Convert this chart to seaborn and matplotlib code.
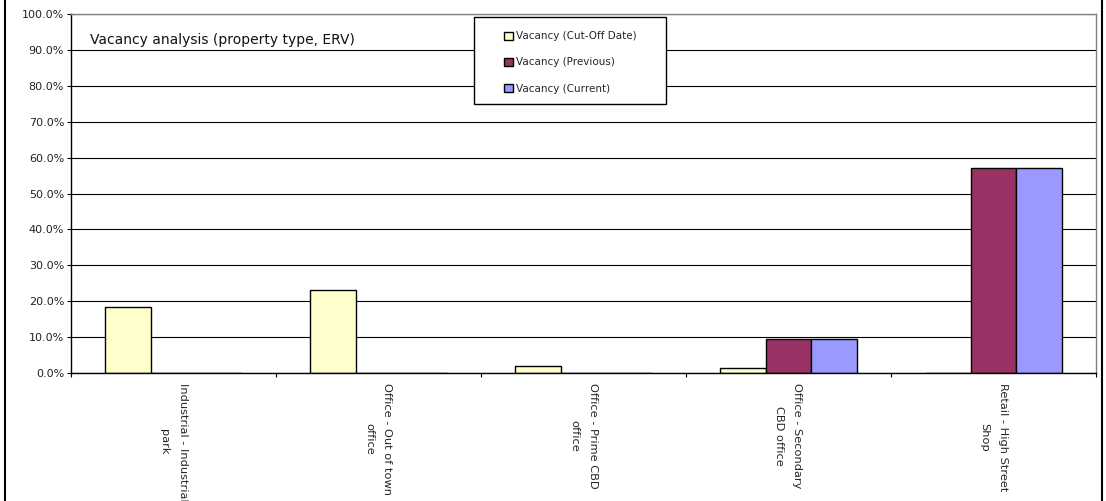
import pandas as pd
import matplotlib.pyplot as plt
import seaborn as sns
from matplotlib.ticker import FuncFormatter, FixedLocator
from matplotlib.lines import Line2D
from matplotlib.patches import Rectangle

sns.set_style("white")
plt.rcParams['font.family'] = ['DejaVu Sans']

categories = [
    "Industrial - Industrial\npark",
    "Office - Out of town\noffice",
    "Office - Prime CBD\noffice",
    "Office - Secondary\nCBD office",
    "Retail - High Street\nShop",
]
series = ["Vacancy (Cut-Off Date)", "Vacancy (Previous)", "Vacancy (Current)"]
cutoff = [0.184, 0.232, 0.020, 0.013, 0.0]
previous = [0.0, 0.0, 0.0, 0.094, 0.572]
current = [0.0, 0.0, 0.0, 0.094, 0.572]

colors = {series[0]: '#FFFFCC', series[1]: '#993366', series[2]: '#9999FF'}

rows = []
for name, vals in zip(series, [cutoff, previous, current]):
    for cat, v in zip(categories, vals):
        rows.append({'category': cat, 'series': name, 'value': v})
df = pd.DataFrame(rows)

W, H = 1106, 501
fig = plt.figure(figsize=(W / 100, H / 100), dpi=100)
ax = fig.add_axes([71 / W, 1 - 373 / H, 1025 / W, 359 / H])

sns.barplot(data=df, x='category', y='value', hue='series', order=categories,
            hue_order=series, palette=colors, saturation=1, width=0.667,
            edgecolor='black', linewidth=1, ax=ax, legend=True)

ax.set_ylim(0, 1.0)
ax.set_xlim(-0.5, len(categories) - 0.5)
ax.set_yticks([i / 10 for i in range(11)])
ax.yaxis.set_major_formatter(FuncFormatter(lambda v, p: f"{v * 100:.1f}%"))
ax.yaxis.grid(True, color='black', linewidth=0.8)
ax.set_axisbelow(True)
ax.set_xlabel('')
ax.set_ylabel('')

ax.set_xticks(range(len(categories)))
ax.set_xticklabels(categories, rotation=-90, ha='center', va='top',
                   multialignment='center', linespacing=2.0, fontsize=8.2)
ax.tick_params(axis='x', which='major', length=0, pad=7)
ax.xaxis.set_minor_locator(FixedLocator([i + 0.5 for i in range(-1, len(categories))]))
ax.tick_params(axis='x', which='minor', length=3, width=0.8, color='black',
               direction='out', bottom=True)
ax.tick_params(axis='y', length=3, width=0.8, color='black', direction='out',
               left=True, labelsize=8, pad=2, labelcolor='#222222')

for s in ['left', 'bottom']:
    ax.spines[s].set_color('black')
    ax.spines[s].set_linewidth(1)
for s in ['top', 'right']:
    ax.spines[s].set_color('#808080')
    ax.spines[s].set_linewidth(1)

# legend
ax.get_legend().remove()
handles = [Rectangle((0, 0), 1, 1, facecolor=colors[n], edgecolor='black', linewidth=1)
           for n in series]
fig.legend(handles, series, loc='upper left',
           bbox_to_anchor=(499 / W, 1 - 26 / H), bbox_transform=fig.transFigure,
           frameon=False, fontsize=7.5, borderpad=0, labelspacing=1.55,
           handlelength=0.8, handleheight=0.8, handletextpad=0.3)
fig.add_artist(Rectangle((474 / W, 1 - 104 / H), 192 / W, 87 / H,
                         transform=fig.transFigure, facecolor='white',
                         edgecolor='black', linewidth=1, zorder=1))
fig.legends[0].set_zorder(2)

fig.text(90 / W, 1 - 40 / H, "Vacancy analysis (property type, ERV)",
         fontsize=10, va='center', ha='left', color='#111111')

# outer frame edges
fig.add_artist(Line2D([4.5 / W, 4.5 / W], [0, 1], color='black', linewidth=1.5))
fig.add_artist(Line2D([1102 / W, 1102 / W], [0, 1], color='black', linewidth=1.5))

fig.savefig('out.png', dpi=100, facecolor='white')
